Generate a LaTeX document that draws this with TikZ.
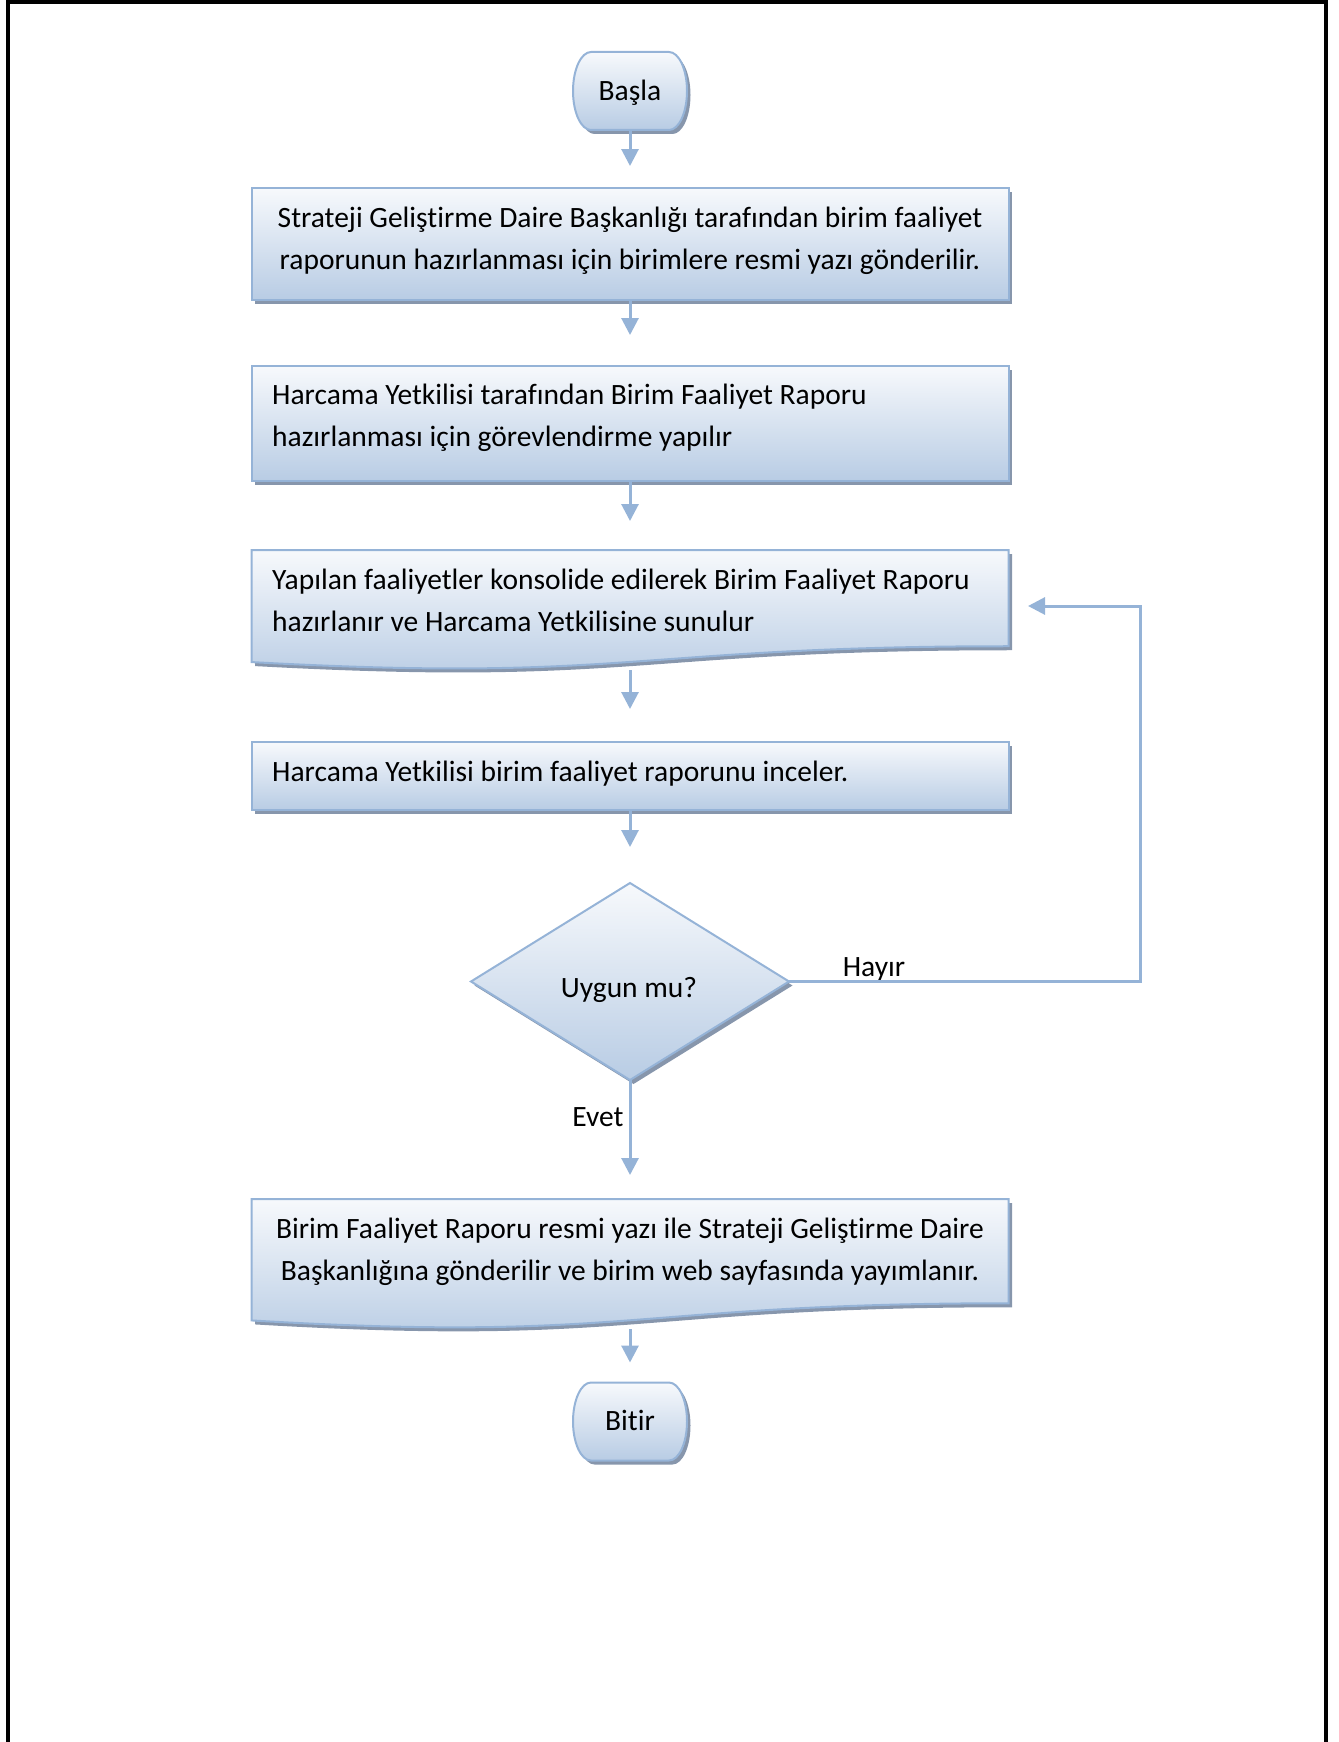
\documentclass[tikz,border=0pt]{standalone}
\usepackage{fontspec}
\setmainfont[Ligatures=NoCommon]{Carlito}
\usetikzlibrary{calc,arrows.meta,shapes.geometric}

\definecolor{edgeblue}{RGB}{149,179,215}
\definecolor{filltop}{RGB}{247,249,252}
\definecolor{fillbot}{RGB}{184,204,228}
\definecolor{shadowgray}{RGB}{135,150,172}

% start/end terminator: straight top and bottom, half-elliptic sides
\newcommand\termoutline[1]{($(#1.north west)+(18,0)$) -- ($(#1.north east)+(-18,0)$)
  arc[start angle=90,end angle=-90,x radius=18,y radius=39]
  -- ($(#1.south west)+(18,0)$)
  arc[start angle=270,end angle=90,x radius=18,y radius=39] -- cycle}
% document shape: rectangle with a wavy lower edge
\newcommand\docoutline[1]{(#1.north west) -- (#1.north east)
  -- ($(#1.north east)!0.802!(#1.south east)$)
  .. controls ($(#1.north)!0.802!(#1.south)$) and ($(#1.north)!1.107!(#1.south)$)
  .. ($(#1.north west)!0.934!(#1.south west)$) -- cycle}
\newcommand\boxoutline[1]{(#1.north west) rectangle (#1.south east)}
\newcommand\diaoutline[1]{(#1.north) -- (#1.east) -- (#1.south) -- (#1.west) -- cycle}

\tikzset{
  flowfill/.style={top color=filltop, bottom color=fillbot, draw=edgeblue, line width=2pt},
  castshadow/.style={fill=shadowgray, draw=none, transform canvas={shift={(3.5pt,-4pt)}}},
  hollow/.style={rectangle, draw=none, inner sep=0pt, outer sep=0pt},
  wide/.style={hollow, minimum width=757pt},
  term/.style={hollow, minimum width=114pt, minimum height=78pt},
  txt/.style={inner sep=0pt, font=\fontsize{29.5}{42}\selectfont},
  arr/.style={draw=edgeblue, line width=3pt, -{Triangle[length=17pt,width=17pt]}},
}

\begin{document}
\begin{tikzpicture}[x=1pt,y=1pt]
\useasboundingbox (0,0) rectangle (1338,-1742);

% page frame
\draw[line width=4pt] (8,-1742) -- (8,-2) -- (1326,-2) -- (1326,-1742);

% shape placeholders
\node[term] (start) at (630,-91) {};
\node[wide, minimum height=112pt] (box1) at (630,-244) {};
\node[wide, minimum height=115pt] (box2) at (630,-423.5) {};
\node[wide, minimum height=120pt] (box3) at (630,-610) {};
\node[wide, minimum height=68pt]  (box4) at (630,-776) {};
\node[hollow, diamond, minimum width=318pt, minimum height=197pt] (dec) at (630,-981.5) {};
\node[wide, minimum height=130pt] (box5) at (630,-1264) {};
\node[term] (stop) at (630,-1421.5) {};

% shadows
\path[castshadow] \termoutline{start};
\path[castshadow] \boxoutline{box1};
\path[castshadow] \boxoutline{box2};
\path[castshadow] \docoutline{box3};
\path[castshadow] \boxoutline{box4};
\path[castshadow] \diaoutline{dec};
\path[castshadow] \docoutline{box5};
\path[castshadow] \termoutline{stop};

% shapes
\path[flowfill] \termoutline{start};
\path[flowfill] \boxoutline{box1};
\path[flowfill] \boxoutline{box2};
\path[flowfill] \docoutline{box3};
\path[flowfill] \boxoutline{box4};
\path[flowfill] \diaoutline{dec};
\path[flowfill] \docoutline{box5};
\path[flowfill] \termoutline{stop};

% texts
\node[txt] (start-t) at (630,-93) {Başla};
\node[txt, align=center] (box1-t) at (630,-241)
  {Strateji Geliştirme Daire Başkanlığı tarafından birim faaliyet\\
   raporunun hazırlanması için birimlere resmi yazı gönderilir.};
\node[txt, align=left, anchor=west] (box2-t) at (272,-418)
  {Harcama Yetkilisi tarafından Birim Faaliyet Raporu\\
   hazırlanması için görevlendirme yapılır};
\node[txt, align=left, anchor=west] (box3-t) at (272,-600)
  {Yapılan faaliyetler konsolide edilerek Birim Faaliyet Raporu\\
   hazırlanır ve Harcama Yetkilisine sunulur};
\node[txt, anchor=west] (box4-t) at (272,-774)
  {Harcama Yetkilisi birim faaliyet raporunu inceler.};
\node[txt] (dec-t) at (629,-990) {Uygun mu?};
\node[txt, align=center] (box5-t) at (630,-1252)
  {Birim Faaliyet Raporu resmi yazı ile Strateji Geliştirme Daire\\
   Başkanlığına gönderilir ve birim web sayfasında yayımlanır.};
\node[txt] (stop-t) at (630,-1420) {Bitir};
\node[txt] (no) at (874,-969) {Hayır};
\node[txt] (yes) at (598,-1117) {Evet};

% connectors
\coordinate (loopend) at (1028,-606);
\draw[arr, shorten >=22pt] (start) -- (box1);
\draw[arr, shorten >=31pt] (box1) -- (box2);
\draw[arr, shorten >=29pt] (box2) -- (box3);
\draw[arr, shorten >=33pt] (box3) -- (box4);
\draw[arr, shorten >=36pt] (box4) -- (dec);
\draw[arr, shorten >=24pt] (dec) -- (box5);
\draw[arr, shorten >=20pt] (box5) -- (stop);
\draw[arr] (dec.east) -- ++(351,0) |- (loopend);
\end{tikzpicture}
\end{document}
